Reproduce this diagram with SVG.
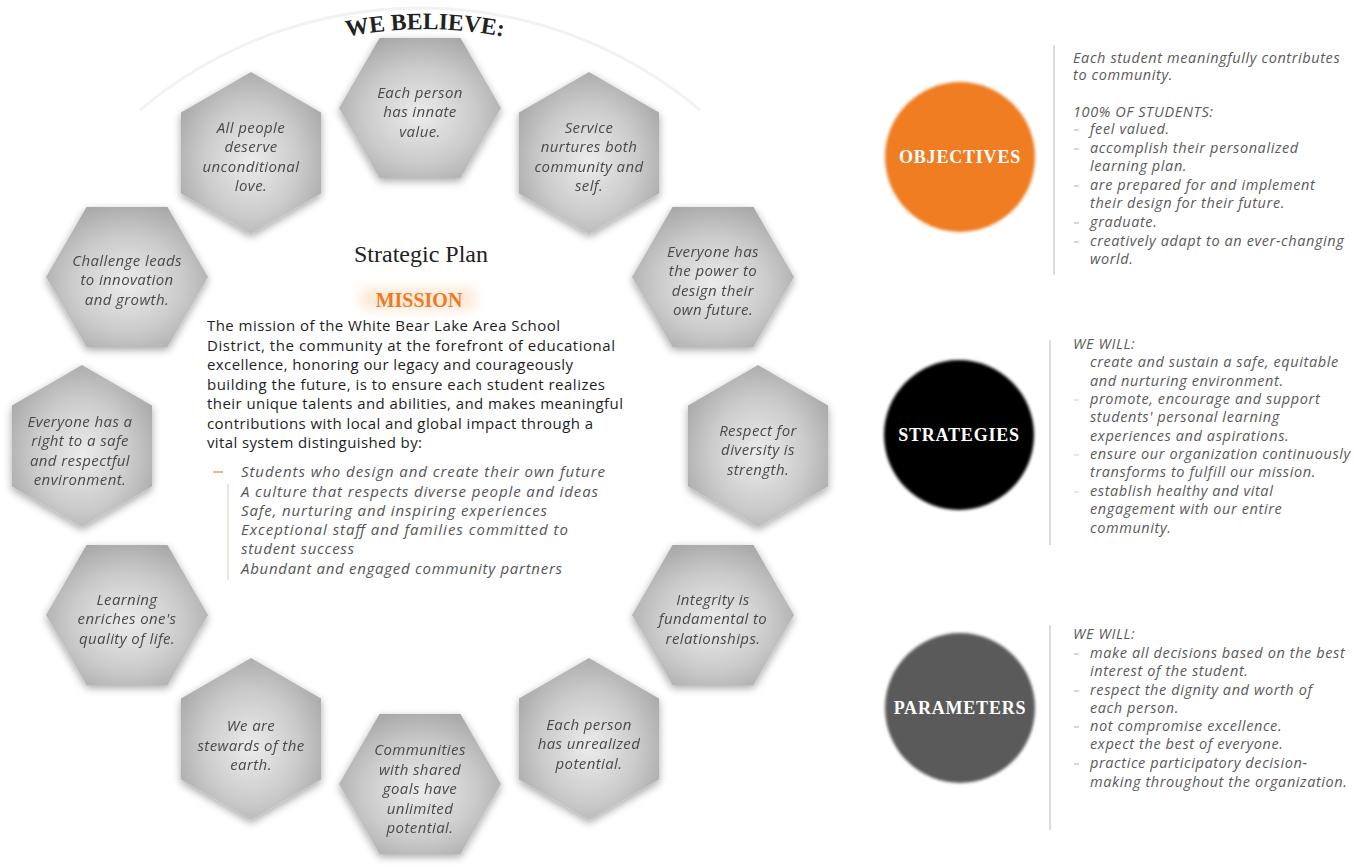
<svg xmlns="http://www.w3.org/2000/svg" width="1356" height="867" viewBox="0 0 1356 867">
<style>
.hx{font-family:"Open Sans","DejaVu Sans",sans-serif;font-style:italic;font-size:15px;letter-spacing:0.4px;fill:#4a4a4a;text-anchor:middle}
.ms{font-family:"Open Sans","Liberation Sans",sans-serif;font-size:15px;fill:#1e1e1e}
.bl{font-family:"Open Sans","Liberation Sans",sans-serif;font-style:italic;font-size:15px;fill:#555}
.rt{font-family:"Open Sans","Liberation Sans",sans-serif;font-style:italic;font-size:14.5px;letter-spacing:0.6px;fill:#5a5a5a}
.ct{font-family:"Liberation Serif","Times New Roman",serif;font-weight:bold;font-size:18px;letter-spacing:0.8px;fill:#fff;text-anchor:middle}
.div{stroke:#dcdcdc;stroke-width:2}
.dash{stroke:#b0b0b0;stroke-width:1}
</style>
<defs>
<radialGradient id="hg" cx="50%" cy="55%" r="62%">
<stop offset="0" stop-color="#ececec"/>
<stop offset="0.55" stop-color="#cbcbcb"/>
<stop offset="1" stop-color="#a4a4a4"/>
</radialGradient>
<filter id="sh" x="-20%" y="-20%" width="140%" height="140%">
<feGaussianBlur in="SourceAlpha" stdDeviation="4"/>
<feOffset dx="0" dy="3"/>
<feComponentTransfer><feFuncA type="linear" slope="0.35"/></feComponentTransfer>
<feMerge><feMergeNode/><feMergeNode in="SourceGraphic"/></feMerge>
</filter>
<filter id="soft" x="-20%" y="-20%" width="140%" height="140%"><feGaussianBlur stdDeviation="1.5"/></filter>
<filter id="glow" x="-50%" y="-50%" width="200%" height="200%"><feGaussianBlur stdDeviation="6"/></filter>
<polygon id="hexF" points="-81,0 -40.5,-70 40.5,-70 81,0 40.5,70 -40.5,70" fill="url(#hg)"/>
<polygon id="hexP" points="0,-81 70,-40.5 70,40.5 0,81 -70,40.5 -70,-40.5" fill="url(#hg)"/>
<path id="arcText" d="M 157,127 A 416,416 0 0 1 693,127" fill="none"/>
</defs>
<rect width="1356" height="867" fill="#ffffff"/>

<path d="M 140,110 A 435,435 0 0 1 700,110" fill="none" stroke="#f2f2f2" stroke-width="3"/>

<text font-family="'Liberation Serif',serif" font-weight="bold" font-size="23.5" fill="#222"><textPath href="#arcText" startOffset="50%" text-anchor="middle">WE BELIEVE:</textPath></text>

<g id="connectors"></g>

<g id="hex1" filter="url(#sh)"><use href="#hexF" x="420" y="108"/><text class="hx"><tspan x="420" y="97.5">Each person</tspan><tspan x="420" y="117">has innate</tspan><tspan x="420" y="136.5">value.</tspan></text></g>
<g id="hex2" filter="url(#sh)"><use href="#hexP" x="589" y="153"/><text class="hx"><tspan x="589" y="132.75">Service</tspan><tspan x="589" y="152.25">nurtures both</tspan><tspan x="589" y="171.75">community and</tspan><tspan x="589" y="191.25">self.</tspan></text></g>
<g id="hex3" filter="url(#sh)"><use href="#hexF" x="713" y="277"/><text class="hx"><tspan x="713" y="256.75">Everyone has</tspan><tspan x="713" y="276.25">the power to</tspan><tspan x="713" y="295.75">design their</tspan><tspan x="713" y="315.25">own future.</tspan></text></g>
<g id="hex4" filter="url(#sh)"><use href="#hexP" x="758" y="446"/><text class="hx"><tspan x="758" y="435.5">Respect for</tspan><tspan x="758" y="455">diversity is</tspan><tspan x="758" y="474.5">strength.</tspan></text></g>
<g id="hex5" filter="url(#sh)"><use href="#hexF" x="713" y="615"/><text class="hx"><tspan x="713" y="604.5">Integrity is</tspan><tspan x="713" y="624">fundamental to</tspan><tspan x="713" y="643.5">relationships.</tspan></text></g>
<g id="hex6" filter="url(#sh)"><use href="#hexP" x="589" y="739"/><text class="hx"><tspan x="589" y="729.5">Each person</tspan><tspan x="589" y="749">has unrealized</tspan><tspan x="589" y="768.5">potential.</tspan></text></g>
<g id="hex7" filter="url(#sh)"><use href="#hexF" x="420" y="784"/><text class="hx"><tspan x="420" y="755">Communities</tspan><tspan x="420" y="774.5">with shared</tspan><tspan x="420" y="794">goals have</tspan><tspan x="420" y="813.5">unlimited</tspan><tspan x="420" y="833">potential.</tspan></text></g>
<g id="hex8" filter="url(#sh)"><use href="#hexP" x="251" y="739"/><text class="hx"><tspan x="251" y="731">We are</tspan><tspan x="251" y="750.5">stewards of the</tspan><tspan x="251" y="770">earth.</tspan></text></g>
<g id="hex9" filter="url(#sh)"><use href="#hexF" x="127" y="615"/><text class="hx"><tspan x="127" y="604.5">Learning</tspan><tspan x="127" y="624">enriches one's</tspan><tspan x="127" y="643.5">quality of life.</tspan></text></g>
<g id="hex10" filter="url(#sh)"><use href="#hexP" x="82" y="446"/><text class="hx"><tspan x="80" y="426.5">Everyone has a</tspan><tspan x="80" y="446">right to a safe</tspan><tspan x="80" y="465.5">and respectful</tspan><tspan x="80" y="485">environment.</tspan></text></g>
<g id="hex11" filter="url(#sh)"><use href="#hexF" x="127" y="277"/><text class="hx"><tspan x="127" y="265.5">Challenge leads</tspan><tspan x="127" y="285">to innovation</tspan><tspan x="127" y="304.5">and growth.</tspan></text></g>
<g id="hex12" filter="url(#sh)"><use href="#hexP" x="251" y="153"/><text class="hx"><tspan x="251" y="132.75">All people</tspan><tspan x="251" y="152.25">deserve</tspan><tspan x="251" y="171.75">unconditional</tspan><tspan x="251" y="191.25">love.</tspan></text></g>

<g id="center">
<text x="421" y="262" font-family="'Liberation Serif',serif" font-size="24" fill="#222" text-anchor="middle">Strategic Plan</text>
<rect x="360" y="288" width="116" height="22" rx="8" fill="#fbd9bb" opacity="0.6" filter="url(#glow)"/>
<text x="419" y="307" font-family="'Liberation Serif',serif" font-weight="bold" font-size="20" fill="#ec7a26" text-anchor="middle">MISSION</text>
<text class="ms">
<tspan x="207" y="331" textLength="353">The mission of the White Bear Lake Area School</tspan>
<tspan x="207" y="350.5" textLength="408">District, the community at the forefront of educational</tspan>
<tspan x="207" y="370" textLength="366">excellence, honoring our legacy and courageously</tspan>
<tspan x="207" y="389.5" textLength="398">building the future, is to ensure each student realizes</tspan>
<tspan x="207" y="409" textLength="416">their unique talents and abilities, and makes meaningful</tspan>
<tspan x="207" y="428.5" textLength="386">contributions with local and global impact through a</tspan>
<tspan x="207" y="448" textLength="215">vital system distinguished by:</tspan>
</text>
<line x1="213" y1="472" x2="223" y2="472" stroke="#f09a6a" stroke-width="1.5"/>
<rect x="227" y="484" width="2" height="96" fill="#f3e3df"/>
<text class="bl">
<tspan x="241" y="477" textLength="364">Students who design and create their own future</tspan>
<tspan x="241" y="497" textLength="357">A culture that respects diverse people and ideas</tspan>
<tspan x="241" y="515.5" textLength="306">Safe, nurturing and inspiring experiences</tspan>
<tspan x="241" y="535" textLength="327">Exceptional staff and families committed to</tspan>
<tspan x="241" y="554" textLength="113">student success</tspan>
<tspan x="241" y="574" textLength="321">Abundant and engaged community partners</tspan>
</text>
</g>

<g id="objectives">
<circle cx="960" cy="157" r="75" fill="#f07d22" filter="url(#soft)"/>
<text class="ct" x="960" y="163">OBJECTIVES</text>
<line class="div" x1="1054" y1="45" x2="1054" y2="275"/>
<text class="rt">
<tspan x="1073" y="63">Each student meaningfully contributes</tspan>
<tspan x="1073" y="80">to community.</tspan>
<tspan x="1073" y="117">100% OF STUDENTS:</tspan>
<tspan x="1090" y="134">feel valued.</tspan>
<tspan x="1090" y="153">accomplish their personalized</tspan>
<tspan x="1090" y="171">learning plan.</tspan>
<tspan x="1090" y="190">are prepared for and implement</tspan>
<tspan x="1090" y="208">their design for their future.</tspan>
<tspan x="1090" y="227">graduate.</tspan>
<tspan x="1090" y="246">creatively adapt to an ever-changing</tspan>
<tspan x="1090" y="264">world.</tspan>
</text>
<g class="dash"><line x1="1074" y1="130" x2="1079" y2="130"/><line x1="1074" y1="149" x2="1079" y2="149"/><line x1="1074" y1="186" x2="1079" y2="186"/><line x1="1074" y1="223" x2="1079" y2="223"/><line x1="1074" y1="242" x2="1079" y2="242"/></g>
</g>

<g id="strategies">
<circle cx="959" cy="435" r="75" fill="#000" filter="url(#soft)"/>
<text class="ct" x="959" y="441">STRATEGIES</text>
<line class="div" x1="1050" y1="340" x2="1050" y2="545"/>
<text class="rt">
<tspan x="1073" y="349">WE WILL:</tspan>
<tspan x="1090" y="367">create and sustain a safe, equitable</tspan>
<tspan x="1090" y="386">and nurturing environment.</tspan>
<tspan x="1090" y="404">promote, encourage and support</tspan>
<tspan x="1090" y="422">students' personal learning</tspan>
<tspan x="1090" y="441">experiences and aspirations.</tspan>
<tspan x="1090" y="459">ensure our organization continuously</tspan>
<tspan x="1090" y="477">transforms to fulfill our mission.</tspan>
<tspan x="1090" y="496">establish healthy and vital</tspan>
<tspan x="1090" y="514">engagement with our entire</tspan>
<tspan x="1090" y="533">community.</tspan>
</text>
<g class="dash" opacity="0.6"><line x1="1074" y1="400" x2="1079" y2="400"/><line x1="1074" y1="455" x2="1079" y2="455"/><line x1="1074" y1="492" x2="1079" y2="492"/></g>
</g>

<g id="parameters">
<circle cx="960" cy="708" r="75" fill="#5a5a5a" filter="url(#soft)"/>
<text class="ct" x="960" y="714">PARAMETERS</text>
<line class="div" x1="1050" y1="625" x2="1050" y2="830"/>
<text class="rt">
<tspan x="1073" y="639">WE WILL:</tspan>
<tspan x="1090" y="658">make all decisions based on the best</tspan>
<tspan x="1090" y="676">interest of the student.</tspan>
<tspan x="1090" y="695">respect the dignity and worth of</tspan>
<tspan x="1090" y="713">each person.</tspan>
<tspan x="1090" y="731">not compromise excellence.</tspan>
<tspan x="1090" y="749">expect the best of everyone.</tspan>
<tspan x="1090" y="768">practice participatory decision-</tspan>
<tspan x="1090" y="787">making throughout the organization.</tspan>
</text>
<g class="dash"><line x1="1074" y1="654" x2="1079" y2="654"/><line x1="1074" y1="691" x2="1079" y2="691"/><line x1="1074" y1="727" x2="1079" y2="727"/><line x1="1074" y1="764" x2="1079" y2="764"/></g>
</g>
</svg>
